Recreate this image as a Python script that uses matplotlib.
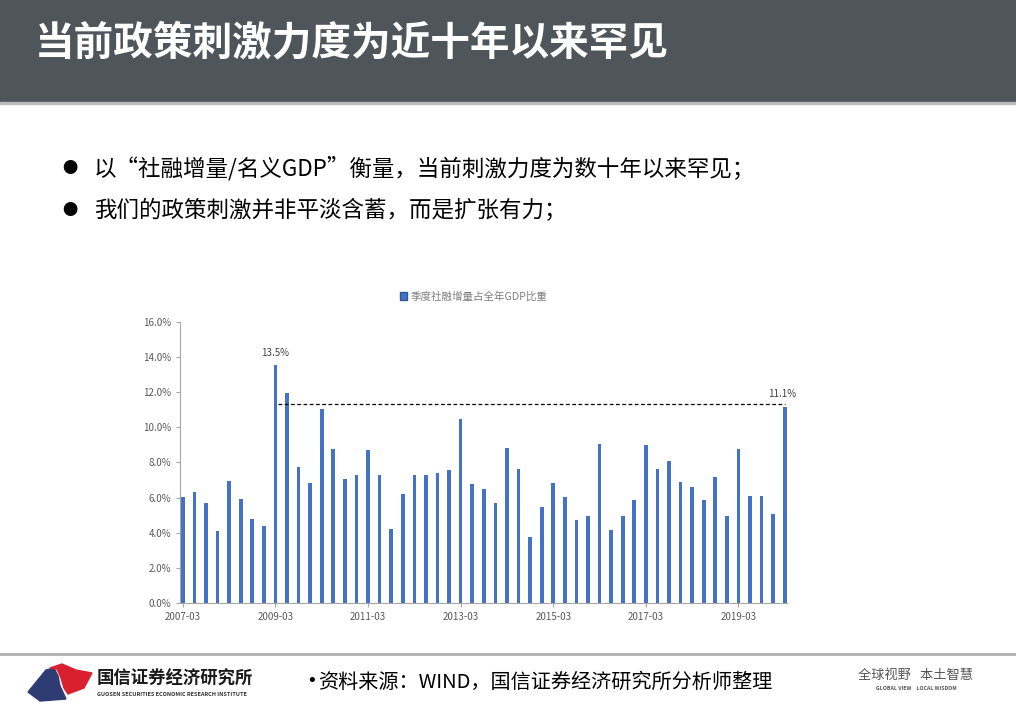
import matplotlib.pyplot as plt
from matplotlib.patches import Polygon, Rectangle
from matplotlib.lines import Line2D

plt.rcParams['font.family'] = ['Noto Sans CJK SC', 'DejaVu Sans']

quarters = [f"{y}-{m:02d}" for y in range(2007, 2021) for m in (3, 6, 9, 12)][:53]
ratio = [6.06, 6.33, 5.72, 4.13, 6.93, 5.91, 4.79, 4.39,
         13.56, 11.95, 7.77, 6.84, 11.02, 8.75, 7.08, 7.31,
         8.69, 7.31, 4.24, 6.23, 7.27, 7.27, 7.39, 7.56,
         10.47, 6.78, 6.50, 5.68, 8.81, 7.65, 3.75, 5.49,
         6.84, 6.06, 4.73, 4.94, 9.05, 4.19, 4.94, 5.89,
         8.98, 7.65, 8.11, 6.89, 6.61, 5.89, 7.16, 4.94,
         8.77, 6.10, 6.10, 5.08, 11.14]
ref_level = 11.35
series_name = "季度社融增量占全年GDP比重"
title = "当前政策刺激力度为近十年以来罕见"
bullets = ["以“社融增量/名义GDP”衡量，当前刺激力度为数十年以来罕见；",
           "我们的政策刺激并非平淡含蓄，而是扩张有力；"]
source = "资料来源：WIND，国信证券经济研究所分析师整理"

W, H = 1016, 715
fig = plt.figure(figsize=(W / 100, H / 100), dpi=100)


def fx(px):
    return px / W


def fy(py):
    return 1 - py / H


# header band
fig.patches.append(Rectangle((0, fy(102)), 1, 1 - fy(102), transform=fig.transFigure,
                             color="#4F565B", zorder=0))
fig.patches.append(Rectangle((0, fy(104)), 1, fy(102) - fy(104), transform=fig.transFigure,
                             color="#B8BBBE", zorder=0))
fig.text(fx(35), fy(43), title, color="white", fontsize=28.5, fontweight="bold",
         va="center", ha="left")

for i, b in enumerate(bullets):
    yy = fy(168 + 43 * i)
    fig.text(fx(62), yy, "●", fontsize=11, va="center", ha="left", color="black")
    fig.text(fx(94), yy, b, fontsize=16.2, va="center", ha="left", color="black")

# chart
ax = fig.add_axes([fx(180), fy(603.3), fx(787 - 180), fy(321.7) - fy(603.3)])
x = list(range(len(ratio)))
ax.bar(x, ratio, width=0.32, color="#4472C4", label=series_name, zorder=2)
ax.set_xlim(-0.25, 52.2)
ax.set_ylim(0, 16)
ax.set_yticks(range(0, 17, 2))
ax.set_yticklabels([f"{v:.1f}%" for v in range(0, 17, 2)])
ax.set_xticks(x[::8])
ax.set_xticklabels(quarters[::8])
ax.tick_params(labelsize=7, colors="#595959", length=3, width=0.8)
ax.tick_params(axis="x", pad=3)
for s in ("top", "right"):
    ax.spines[s].set_visible(False)
for s in ("left", "bottom"):
    ax.spines[s].set_color("#A6A6A6")
ax.tick_params(color="#A6A6A6")

ax.plot([8.2, 52.0], [ref_level, ref_level], ls=(0, (3, 2)), color="black", lw=0.9, zorder=3)
ax.text(8, ratio[8] + 0.35, "13.5%", ha="center",
        va="bottom", fontsize=7, color="#404040")
ax.text(51.8, ref_level + 0.25, "11.1%", ha="center", va="bottom", fontsize=7, color="#404040")

handle = Rectangle((0, 0), 1, 1, facecolor="#4472C4", edgecolor="#2F5597")
ax.legend([handle], [series_name], loc="center", bbox_to_anchor=(0.484, 1.09),
          frameon=False, fontsize=7.6, handlelength=0.7, handleheight=0.7,
          handletextpad=0.3, labelcolor="#7F7F7F")

# footer
fig.add_artist(Line2D([0, 1], [fy(654), fy(654)], transform=fig.transFigure,
                      color="#B0B0B0", lw=2))
navy = [(28, 692), (46, 670), (54, 668), (58, 676), (60, 686), (66, 699), (40, 701)]
red = [(50, 668), (62, 664), (76, 670), (92, 673), (84, 688), (68, 694), (64, 688),
       (61, 678), (57, 669)]
for pts, c in ((navy, "#2E3C73"), (red, "#D9202F")):
    fig.patches.append(Polygon([(fx(a), fy(b)) for a, b in pts], closed=True,
                               transform=fig.transFigure, color=c))
fig.text(fx(97), fy(679), "国信证券经济研究所", fontsize=12.5, fontweight="bold",
         va="center", ha="left", color="#1A1A1A")
fig.text(fx(97), fy(695), "GUOSEN SECURITIES ECONOMIC RESEARCH INSTITUTE", fontsize=4,
         fontweight="bold", va="center", ha="left", color="#333333")
fig.text(fx(306), fy(681), "•", fontsize=13, va="center", ha="left", color="black",
         family="DejaVu Sans")
fig.text(fx(318), fy(682), source, fontsize=14.5, va="center", ha="left", color="black")
fig.text(fx(916), fy(675), "全球视野   本土智慧", fontsize=9.5, va="center", ha="center",
         color="#555555")
fig.text(fx(916), fy(688), "GLOBAL VIEW    LOCAL WISDOM", fontsize=3.8, va="center",
         ha="center", color="#555555", fontweight="bold")

fig.savefig("out.png", dpi=100)
